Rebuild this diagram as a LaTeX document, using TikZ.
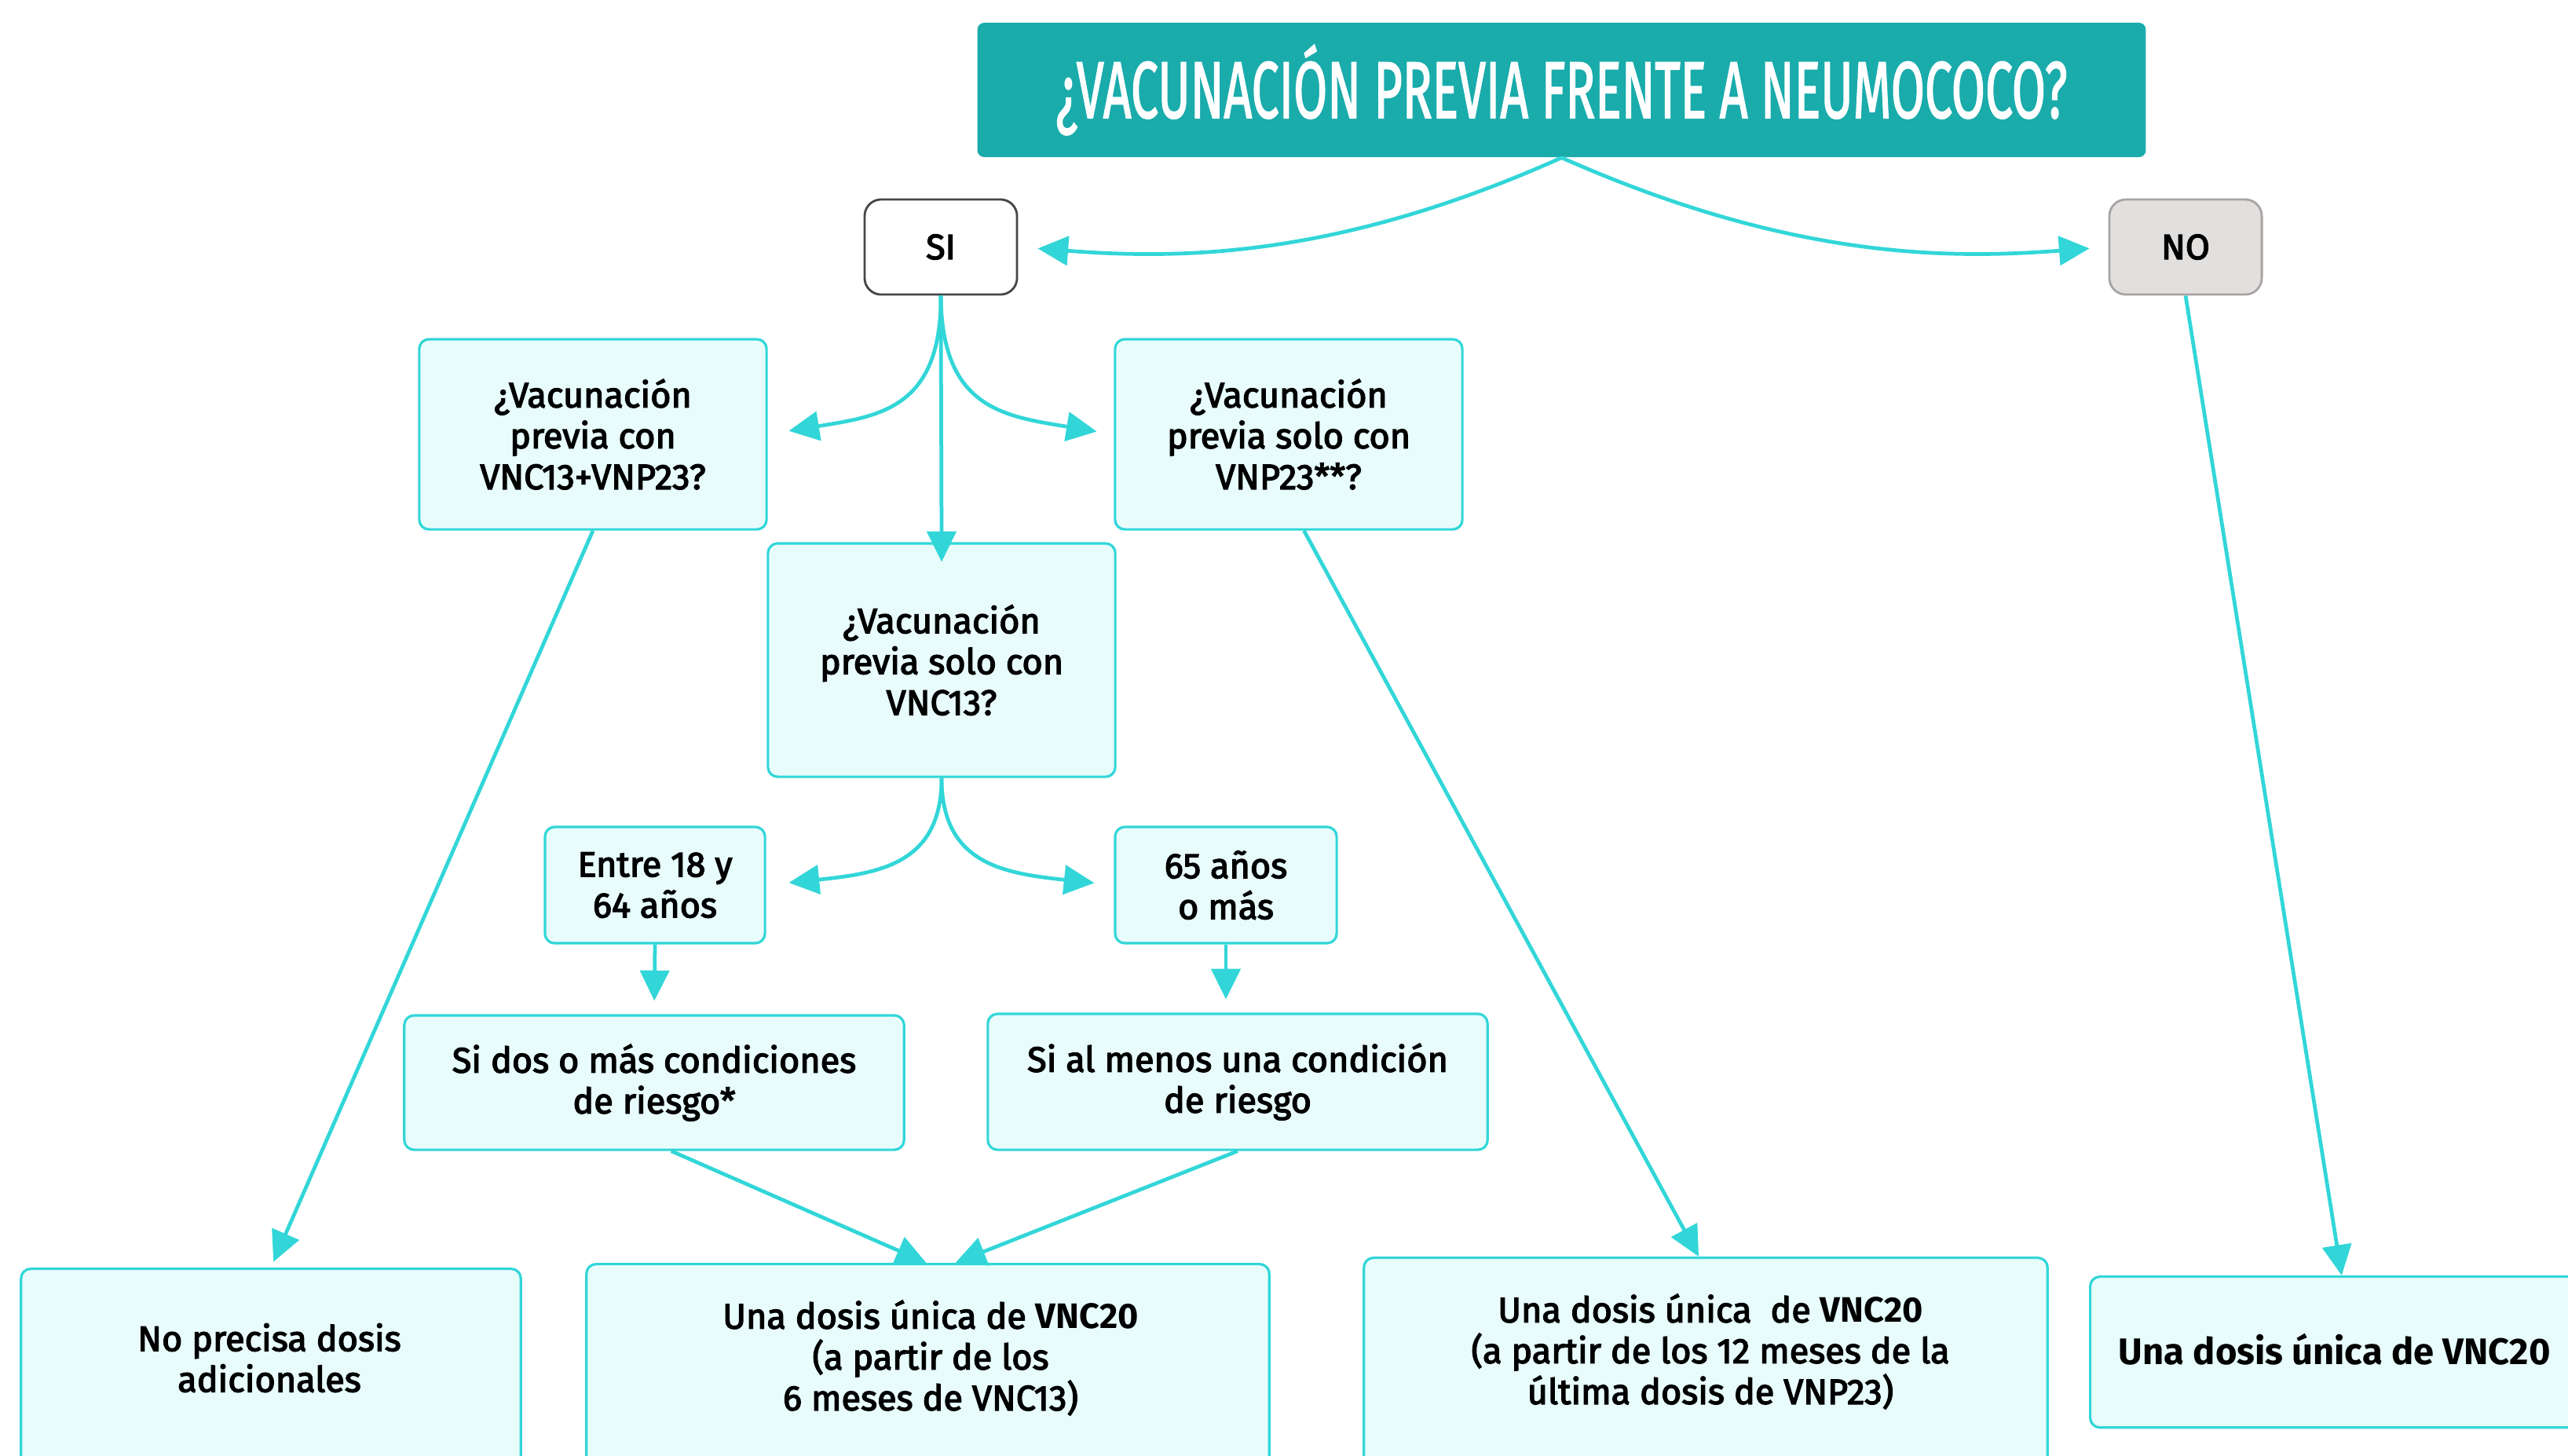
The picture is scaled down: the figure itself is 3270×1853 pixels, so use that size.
\documentclass[tikz,border=0pt]{standalone}
\usepackage{fontspec}
\usetikzlibrary{arrows.meta}
\setmainfont{Fira Sans}
\newfontfamily\medfont{Fira Sans}[FakeBold=3]
\newfontfamily\titlefont{Fira Sans}[FakeBold=2]
\definecolor{titleC}{RGB}{26,171,171}
\definecolor{lineC}{RGB}{50,214,216}
\definecolor{fillC}{RGB}{232,252,252}
\definecolor{siC}{RGB}{70,70,70}
\definecolor{noFill}{RGB}{226,223,223}
\definecolor{noDraw}{RGB}{168,164,164}
\newcommand{\bodyfont}{\medfont\fontsize{12.8}{14.8}\selectfont}
\newcommand{\bv}[1]{{\normalfont\bfseries #1}}
\tikzset{
  box/.style={draw=lineC, line width=0.9pt, fill=fillC, rounded corners=3.5pt,
    align=center, inner sep=0pt, font=\bodyfont},
  txt/.style={align=center, inner sep=0pt, font=\bodyfont},
  conn/.style={draw=lineC, line width=1.35pt, -{Triangle[length=11pt,width=10.5pt]}},
}
\begin{document}
\begin{tikzpicture}[x=0.01cm,y=-0.01cm]
\useasboundingbox (0,0) rectangle (3270,1853);
\clip (0,0) rectangle (3270,1853);
\fill[white] (0,0) rectangle (3270,1853);
% title
\node[fill=titleC, rounded corners=2.5pt, minimum width=14.87cm, minimum height=1.71cm,
  inner sep=0pt, text=white, font=\titlefont\fontsize{29}{32}\selectfont] (title) at (1988.5,114.5)
  {\resizebox{12.87cm}{\height}{¿VACUNACIÓN PREVIA FRENTE A NEUMOCOCO?}};
% SI / NO
\node[draw=siC, line width=0.8pt, rounded corners=6pt, fill=white, minimum width=1.94cm,
  minimum height=1.21cm, inner sep=0pt, font=\bodyfont] (si) at (1198,314.5) {SI};
\node[draw=noDraw, line width=0.8pt, rounded corners=6pt, fill=noFill, minimum width=1.94cm,
  minimum height=1.21cm, inner sep=0pt, font=\bodyfont] (no) at (2783,314.5) {NO};
% question boxes
\node[box, minimum width=4.42cm, minimum height=2.42cm] (a) at (755,553)
  {¿Vacunación\\previa con\\VNC13+VNP23?};
\node[box, minimum width=4.42cm, minimum height=2.42cm] (b) at (1641,553)
  {¿Vacunación\\previa solo con\\VNP23**?};
\node[box, minimum width=4.42cm, minimum height=2.97cm] (c) at (1199,840.5)
  {¿Vacunación\\previa solo con\\VNC13?};
\node[box, minimum width=2.80cm, minimum height=1.48cm] (d) at (834,1127)
  {Entre 18 y\\64 años};
\node[box, minimum width=2.82cm, minimum height=1.48cm] (e) at (1561,1127)
  {65 años\\o más};
\node[box, minimum width=6.36cm, minimum height=1.71cm] (f) at (833,1378.5)
  {Si dos o más condiciones\\de riesgo*};
\node[box, minimum width=6.36cm, minimum height=1.73cm] (g) at (1576,1377.5)
  {Si al menos una condición\\de riesgo};
% bottom boxes
\node[box, anchor=north, minimum width=6.36cm, minimum height=3.2cm] (h) at (345,1614) {};
\node[txt] (ht) at (343,1729) {No precisa dosis\\adicionales};
\node[box, anchor=north, minimum width=8.69cm, minimum height=3.2cm] (i) at (1181.5,1608) {};
\node[txt] (it) at (1185,1729) {Una dosis única de \bv{VNC20}\\(a partir de los\\6 meses de VNC13)};
\node[box, anchor=north, minimum width=8.70cm, minimum height=3.2cm] (j) at (2172,1600) {};
\node[txt] (jt) at (2178,1721) {Una dosis única\ \ de \bv{VNC20}\\(a partir de los 12 meses de la\\última dosis de VNP23)};
\node[box, anchor=north west, minimum width=6.4cm, minimum height=1.92cm,
  font=\normalfont\bfseries\fontsize{13.4}{15.4}\selectfont] (k) at (2660,1624)
  {\hspace*{-0.18cm}\raisebox{0.07cm}{Una dosis única de VNC20}};
% connectors
\draw[conn, shorten >=0.25cm] (title.south) .. controls (1700,330) and (1500,330) .. (si.east);
\draw[conn, shorten >=0.24cm] (title.south) .. controls (2280,330) and (2480,330) .. (no.west);
\draw[conn, shorten >=-0.25cm] (si.south) -- (c.north);
\draw[conn, shorten >=0.27cm] (si.south) .. controls (1199,520) and (1120,530) .. (a.east);
\draw[conn, shorten >=0.22cm] (si.south) .. controls (1199,520) and (1278,530) .. (b.west);
\draw[conn, shorten >=0.29cm] (c.south) .. controls (1199,1100) and (1120,1112) .. (d.east);
\draw[conn, shorten >=0.25cm] (c.south) .. controls (1199,1100) and (1278,1112) .. (e.west);
\draw[conn, shorten >=0.17cm] (d.south) -- (f.north);
\draw[conn, shorten >=0.17cm] (e.south) -- (g.north -| e.south);
\draw[conn] (f.-76) -- ([xshift=-0.02cm]i.north);
\draw[conn] (g.south) -- ([xshift=0.35cm]i.north);
\draw[conn, shorten >=0.08cm] (a.south) -- (h.north);
\draw[conn] (b.-81) -- ([xshift=-0.09cm]j.north);
\draw[conn] (no.south) -- (k.north);
\end{tikzpicture}
\end{document}
